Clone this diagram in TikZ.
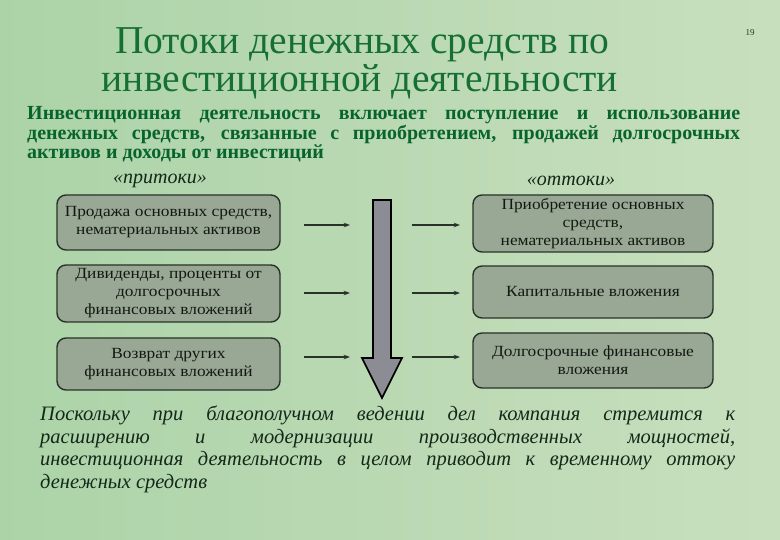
\documentclass[tikz,border=0pt]{standalone}
\usepackage{fontspec}
\setmainfont{Liberation Serif}
\newfontfamily\boxfont[FakeStretch=1.12]{Liberation Serif}
\usepackage{xcolor}
\usetikzlibrary{positioning,arrows.meta,calc}
\definecolor{bgleft}{RGB}{172,211,168}
\definecolor{bgright}{RGB}{200,223,190}
\definecolor{titlegreen}{RGB}{22,112,52}
\definecolor{textgreen}{RGB}{8,100,45}
\definecolor{boxfill}{RGB}{152,168,148}
\definecolor{boxline}{RGB}{40,50,40}
\definecolor{boxtext}{RGB}{20,24,20}
\definecolor{arrgray}{RGB}{140,140,148}
\definecolor{notetext}{RGB}{20,40,25}

\begin{document}
\begin{tikzpicture}[
  x=1pt, y=-1pt,
  flowbox/.style={draw=boxline, line width=1.4pt, fill=boxfill, rounded corners=9pt,
    align=center, text=boxtext, font=\boxfont\fontsize{15.5}{18}\selectfont, inner sep=2pt},
  inbox/.style={flowbox, minimum width=223pt},
  outbox/.style={flowbox, minimum width=240pt},
  flow/.style={-{Stealth[length=2.2mm,width=1.6mm]}, line width=2pt, boxline},
  caption/.style={font=\fontsize{20}{22.5}\selectfont\itshape, text=notetext},
  headline/.style={text=titlegreen, font=\rmfamily\fontsize{39.5}{34}\selectfont, anchor=base, inner sep=0pt},
]
% background
\shade[left color=bgleft, right color=bgright] (0,0) rectangle (780,540);
\useasboundingbox (0,0) rectangle (780,540);

% title
\node[headline, text depth=2pt] (title1) at (362,54) {Потоки денежных средств по};
\node[headline, text height=27pt] (title2) at (360,92) {инвестиционной деятельности};
\node[text=boxline, font=\fontsize{9}{10}\selectfont] (page) at (750,33) {19};

% intro
\node[text=textgreen, font=\fontsize{20}{18}\selectfont\bfseries, text width=713pt, align=justify,
  anchor=north west, inner sep=0pt] (intro) at (27,106.5)
  {Инвестиционная деятельность включает поступление и использование\linebreak
   денежных средств, связанные с приобретением, продажей долгосрочных\linebreak
   активов и доходы от инвестиций};

\node[caption] (inlab) at (160,181) {«притоки»};
\node[caption] (outlab) at (571,181) {«оттоки»};

% inflows
\node[inbox, minimum height=55pt] (in1) at (168.5,222.5) {Продажа основных средств,\\нематериальных активов};
\node[inbox, minimum height=57pt] (in2) at (168.5,293.5) {Дивиденды, проценты от\\долгосрочных\\финансовых вложений};
\node[inbox, minimum height=52pt] (in3) at (168.5,364) {Возврат других\\финансовых вложений};

% outflows
\node[outbox, minimum height=57pt] (out1) at (593,223.5) {Приобретение основных\\средств,\\нематериальных активов};
\node[outbox, minimum height=52pt] (out2) at (593,292) {Капитальные вложения};
\node[outbox, minimum height=55pt] (out3) at (593,360.5) {Долгосрочные финансовые\\вложения};

% big arrow
\draw[line width=1.6pt, fill=arrgray, line join=miter] (373,200) -- (391,200) -- (391,358) -- (402,358)
  -- (382,398) -- (362,358) -- (373,358) -- cycle;

% short arrows
\coordinate (a1) at (304,225); \coordinate (b1) at (350,225);
\coordinate (a2) at (304,293); \coordinate (b2) at (350,293);
\coordinate (a3) at (304,357); \coordinate (b3) at (350,357);
\coordinate (c1) at (412,225); \coordinate (d1) at (460,225);
\coordinate (c2) at (412,293); \coordinate (d2) at (460,293);
\coordinate (c3) at (412,357); \coordinate (d3) at (460,357);
\foreach \i in {1,2,3} {
  \draw[flow] (a\i) -- (b\i);
  \draw[flow] (c\i) -- (d\i);
}

% conclusion
\node[caption, text width=695pt, align=justify, anchor=north west, inner sep=0pt,
  font=\fontsize{20.5}{22.5}\selectfont\itshape] (note) at (40,406)
  {Поскольку при благополучном ведении дел компания стремится к\linebreak
   расширению и модернизации производственных мощностей,\linebreak
   инвестиционная деятельность в целом приводит к временному оттоку\linebreak
   денежных средств};
\end{tikzpicture}
\end{document}
